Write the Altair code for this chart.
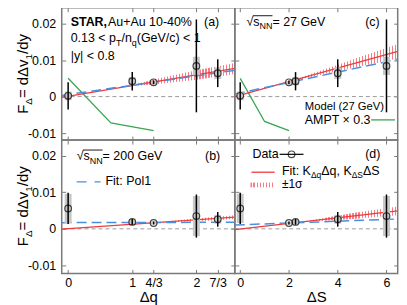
import altair as alt
import pandas as pd

# ---------------- data ----------------
dq = [0, 1, 4 / 3, 2, 7 / 3]
ds = [0, 2.27, 2, 6, 4]
f27 = [0.0002, 0.0042, 0.0039, 0.0084, 0.0064]
stat27 = [0.0037, 0.0025, 0.0005, 0.0127, 0.0038]
sys27 = [0.0012, 0.0011, 0.0004, 0.0025, 0.0016]
f200 = [0.0056, 0.0019, 0.0016, 0.0035, 0.0026]
stat200 = [0.0043, 0.0008, 0.0004, 0.0059, 0.0020]
sys200 = [0.0040, 0.0006, 0.0004, 0.0055, 0.0012]

ampt_dq = [0, 2 / 3, 4 / 3]
ampt_dq_f = [0.0050, -0.0072, -0.0093]
ampt_ds = [0, 1, 2]
ampt_ds_f = [0.0050, -0.0068, -0.0093]

xdom_q = [-0.1, 2.6]
xdom_s = [-0.22, 6.46]
ydom_top = [-0.0119, 0.0243]
ydom_bot = [-0.0122, 0.0243]

red_a = [-0.0002, 0.0077]
red_b = [-0.0001, 0.0032]
red_c = [0.0000, 0.0124]
red_d = [-0.0002, 0.0049]
blue_a = [0.0003, 0.0072]
blue_b = [0.0017, 0.0018]
blue_c = [0.0007, 0.0102]
blue_d = [0.00105, 0.0027]

band_a_x = [0.9, 1.333, 2.0, 2.6]
band_a_lo = [0.0027, 0.0033, 0.0046, 0.0062]
band_a_hi = [0.0027, 0.0047, 0.0072, 0.0092]
band_b_x = [1.2, 2.2, 2.6]
band_b_lo = [0.0015, 0.0022, 0.0027]
band_b_hi = [0.0015, 0.0032, 0.0037]
band_c_x = [1.9, 4.0, 6.46]
band_c_lo = [0.0039, 0.0069, 0.0104]
band_c_hi = [0.0039, 0.0087, 0.0144]
band_d_x = [2.5, 4.5, 6.46]
band_d_lo = [0.0019, 0.0026, 0.0037]
band_d_hi = [0.0019, 0.0042, 0.0061]

q_ticks = [0, 1, 4 / 3, 2, 7 / 3]
q_labels = ["0", "1", "4/3", "2", "7/3"]
s_ticks = [0, 2, 4, 6]
s_labels = ["0", "2", "4", "6"]
y_ticks = [-0.01, 0, 0.01, 0.02]
y_labels = ["-0.01", "0", "0.01", "0.02"]

# ---------------- style ----------------
FONT = "Liberation Sans"
AXC = "#7a7a7a"
TK = 4
RED = "#ee3b3b"
BLUE = "#4a8fe0"
GREEN = "#3aa651"
PINK = "#f47c86"
CLEAR = "rgba(255,255,255,0)"
SYS = "#c8c8c8"

WN = {' ': .278, '%': .889, '(': .333, ')': .333, '+': .584, ',': .278, '-': .333,
      '.': .278, '/': .278, ':': .278, '<': .584, '=': .584, '|': .26,
      'A': .667, 'D': .722, 'F': .611, 'G': .778, 'K': .667, 'M': .833, 'N': .722,
      'P': .667, 'R': .722, 'S': .667, 'T': .611, 'V': .667, 'a': .556, 'b': .556,
      'c': .5, 'd': .556, 'e': .556, 'i': .222, 'l': .222, 'n': .556, 'o': .556,
      'p': .556, 'q': .556, 's': .5, 't': .278, 'u': .556, 'v': .5, 'y': .5,
      'Δ': .668, '±': .584, 'σ': .6, '×': .584, '√': .549}
WB = {'S': .667, 'T': .611, 'A': .722, 'R': .722, ',': .278}


def tw(s, size, bold=False):
    tab = WB if bold else WN
    return sum(tab.get(c, WN.get(c, .556)) for c in s) * size


ONE = pd.DataFrame({"k": [0]})


def txt(s, x, y, size=12.5, bold=False, angle=0, align="left"):
    mk = dict(text=s, align=align, baseline="alphabetic", font=FONT,
              fontSize=size, color="black")
    if bold:
        mk["fontWeight"] = "bold"
    if angle:
        mk["angle"] = angle
    return alt.Chart(ONE).mark_text(**mk).encode(x=alt.value(x), y=alt.value(y))


def rich(pieces, x, y, size=12.5, sub=9.0, shift=3.5):
    out = []
    cx = x
    for s, kind in pieces:
        fs = sub if kind == "s" else size
        yy = y + shift if kind == "s" else y
        out.append(txt(s, cx, yy, fs, bold=(kind == "b")))
        cx += tw(s, fs, bold=(kind == "b"))
    return out


def rich_rot(pieces, xb, yc, size=15, sub=10, shift=4):
    total = sum(tw(s, sub if k == "s" else size) for s, k in pieces)
    cy = yc + total / 2
    out = []
    for s, kind in pieces:
        fs = sub if kind == "s" else size
        xx = xb + shift if kind == "s" else xb
        out.append(txt(s, xx, cy, fs, angle=270))
        cy -= tw(s, fs)
    return out


def hrule(x1, x2, y, color, width=1.3, dash=None):
    mk = dict(color=color, strokeWidth=width)
    if dash:
        mk["strokeDash"] = dash
    return alt.Chart(ONE).mark_rule(**mk).encode(
        x=alt.value(x1), x2=alt.value(x2), y=alt.value(y))


def hatch(n):
    stops = []
    for i in range(n):
        a = i / n
        b = (i + 0.4) / n
        c = (i + 1) / n
        stops += [alt.GradientStop(color=PINK, offset=a),
                  alt.GradientStop(color=PINK, offset=b),
                  alt.GradientStop(color=CLEAR, offset=b),
                  alt.GradientStop(color=CLEAR, offset=c)]
    return alt.LinearGradient(gradient="linear", stops=stops, x1=0, x2=1, y1=0, y2=0)


def label_expr(ticks, labels):
    expr = "''"
    for t, l in reversed(list(zip(ticks, labels))):
        expr = f"abs(datum.value - ({t})) < 1e-6 ? '{l}' : ({expr})"
    return expr


def make_axis(kind, orient, show, ticks, labels, title=None):
    kw = dict(orient=orient, values=ticks, labels=show, domain=False, grid=False,
              ticks=True, tickSize=TK, tickColor=AXC, tickWidth=1, offset=-TK,
              labelExpr=label_expr(ticks, labels), labelFont=FONT, labelFontSize=12.5,
              labelColor="black", labelFlush=False, labelOverlap=False,
              labelPadding=(3 if kind == "x" else 6), title=title)
    if title:
        kw.update(titleFont=FONT, titleFontSize=15, titleFontWeight="normal",
                  titlePadding=1, titleColor="black")
    return alt.Axis(**kw)


def panel(xs, fs, st, sy, xdom, ydom, xt, xl, red, blue, bx, blo, bhi, w, h,
          left, bottom, xtitle, extras, model=None):
    X = alt.Scale(domain=xdom, nice=False, zero=False)
    Y = alt.Scale(domain=ydom, nice=False, zero=False)
    pts = pd.DataFrame({
        "x": xs, "f": fs,
        "lo": [a - b for a, b in zip(fs, st)], "hi": [a + b for a, b in zip(fs, st)],
        "slo": [a - b for a, b in zip(fs, sy)], "shi": [a + b for a, b in zip(fs, sy)],
    })
    xe = alt.X("x:Q", scale=X, axis=None)
    layers = []
    layers.append(alt.Chart(pd.DataFrame({"y": [0]})).mark_rule(
        color="#9a9a9a", strokeDash=[4, 3], strokeWidth=1).encode(
        y=alt.Y("y:Q", scale=Y, axis=None)))
    npx = (bx[-1] - bx[0]) / (xdom[1] - xdom[0]) * w
    layers.append(alt.Chart(pd.DataFrame({"x": bx, "lo": blo, "hi": bhi})).mark_area(
        fill=hatch(max(2, round(npx / 3))), orient="vertical", clip=True).encode(
        x=xe, y=alt.Y("lo:Q", scale=Y, axis=None), y2="hi:Q"))
    if model is not None:
        layers.append(alt.Chart(pd.DataFrame({"x": model[0], "y": model[1]})).mark_line(
            color=GREEN, strokeWidth=1.3, clip=True).encode(
            x=xe, y=alt.Y("y:Q", scale=Y, axis=None)))
    layers.append(alt.Chart(pd.DataFrame({"x": xdom, "y": red})).mark_line(
        color=RED, strokeWidth=1.3, clip=True).encode(
        x=xe, y=alt.Y("y:Q", scale=Y, axis=None)))
    layers.append(alt.Chart(pd.DataFrame({"x": xdom, "y": blue})).mark_line(
        color=BLUE, strokeWidth=1.5, strokeDash=[10, 5], clip=True).encode(
        x=xe, y=alt.Y("y:Q", scale=Y, axis=None)))
    layers.append(alt.Chart(pts).mark_rule(color=SYS, strokeWidth=7).encode(
        x=xe, y=alt.Y("slo:Q", scale=Y, axis=None), y2="shi:Q"))
    layers.append(alt.Chart(pts).mark_rule(color="black", strokeWidth=1.5).encode(
        x=xe, y=alt.Y("lo:Q", scale=Y, axis=None), y2="hi:Q"))
    layers.append(alt.Chart(pts).mark_point(
        shape="circle", filled=False, color="black", size=45, strokeWidth=1.2).encode(
        x=alt.X("x:Q", scale=X, axis=make_axis("x", "bottom", bottom, xt, xl,
                                               xtitle if bottom else None)),
        y=alt.Y("f:Q", scale=Y, axis=make_axis("y", "left", left, y_ticks, y_labels))))
    layers.append(alt.Chart(pts).mark_point(opacity=0).encode(
        x=alt.X("x:Q", scale=X, axis=make_axis("x", "top", False, xt, xl)),
        y=alt.Y("f:Q", scale=Y, axis=make_axis("y", "right", False, y_ticks, y_labels))))
    layers += extras
    return alt.layer(*layers).resolve_axis(x="independent", y="independent").properties(
        width=w, height=h)


ytitle = [("F", "n"), ("Δ", "s"), ("= dΔv", "n"), ("1", "s"), ("/dy", "n")]

# panel (a)
ex_a = []
ex_a += rich([("STAR,", "b"), ("Au+Au 10-40%", "n")], 9, 18.5)
ex_a.append(txt("(a)", 143, 18.5))
ex_a += rich([("0.13 < p", "n"), ("T", "s"), ("/n", "n"), ("q", "s"),
              (" (GeV/c) < 1", "n")], 9, 34.5)
ex_a.append(txt("|y| < 0.8", 9, 53))
ex_a += rich_rot(ytitle, -34, 66.5)


def sqrt_s(x, y, energy):
    out = rich([("√", "n"), ("s", "n"), ("NN", "s"), (f" = {energy} GeV", "n")], x, y)
    x0 = x + tw("√", 12.5) - 0.5
    x1 = x + tw("√s", 12.5) + tw("NN", 9)
    out.append(hrule(x0, x1, y - 10.3, "black", width=0.9))
    return out


# panel (c)
ex_c = []
ex_c += sqrt_s(11.7, 18.3, "27")
ex_c.append(txt("(c)", 131, 18.5))
ex_c.append(txt("Model (27 GeV)", 70.3, 102.3, size=11.3))
ex_c.append(txt("AMPT × 0.3", 70.3, 116.7))
ex_c.append(hrule(137, 161, 112.7, GREEN))

# panel (b)
ex_b = []
ex_b += sqrt_s(15, 20.3, "200")
ex_b.append(txt("(b)", 144, 20.3))
ex_b.append(hrule(15, 39, 42, BLUE, width=1.5, dash=[10, 8]))
ex_b.append(txt("Fit: Pol1", 44, 45.5))
ex_b += rich_rot(ytitle, -34, 66.5)

# panel (d)
ex_d = []
ex_d.append(txt("Data", 17.7, 17.7))
ex_d.append(hrule(45, 69, 14.3, "black", width=1.2))
ex_d.append(alt.Chart(ONE).mark_point(shape="circle", filled=False, color="black",
                                      size=45, strokeWidth=1.2).encode(
    x=alt.value(57), y=alt.value(14.3)))
ex_d.append(txt("(d)", 131, 18.5))
ex_d.append(hrule(16.7, 40, 32.3, RED))
ex_d += rich([("Fit: K", "n"), ("Δq", "s"), ("Δq, K", "n"), ("ΔS", "s"), ("ΔS", "n")],
             47.3, 35.0, sub=8.5, shift=3.0)
ex_d.append(alt.Chart(ONE).mark_rect(fill=hatch(8)).encode(
    x=alt.value(15.7), x2=alt.value(40), y=alt.value(42.7), y2=alt.value(47.5)))
ex_d.append(txt("±1σ", 47.3, 48.2, size=12))

WL, WR, HT, HB = 174, 163.7, 133, 134

pa = panel(dq, f27, stat27, sys27, xdom_q, ydom_top, q_ticks, q_labels, red_a, blue_a,
           band_a_x, band_a_lo, band_a_hi, WL, HT, True, False, "Δq", ex_a,
           model=(ampt_dq, ampt_dq_f))
pc = panel(ds, f27, stat27, sys27, xdom_s, ydom_top, s_ticks, s_labels, red_c, blue_c,
           band_c_x, band_c_lo, band_c_hi, WR, HT, False, False, "ΔS", ex_c,
           model=(ampt_ds, ampt_ds_f))
pb = panel(dq, f200, stat200, sys200, xdom_q, ydom_bot, q_ticks, q_labels, red_b, blue_b,
           band_b_x, band_b_lo, band_b_hi, WL, HB, True, True, "Δq", ex_b)
pdd = panel(ds, f200, stat200, sys200, xdom_s, ydom_bot, s_ticks, s_labels, red_d, blue_d,
            band_d_x, band_d_lo, band_d_hi, WR, HB, False, True, "ΔS", ex_d)

chart = alt.concat(pa, pc, pb, pdd, columns=2, spacing=0, bounds="flush").properties(
    padding={"left": 7, "top": -3, "right": 0, "bottom": 0},
    background="white",
).configure_view(stroke=AXC, strokeWidth=1.5)

chart.save("out.html", embed_options={"renderer": "svg", "actions": False})
